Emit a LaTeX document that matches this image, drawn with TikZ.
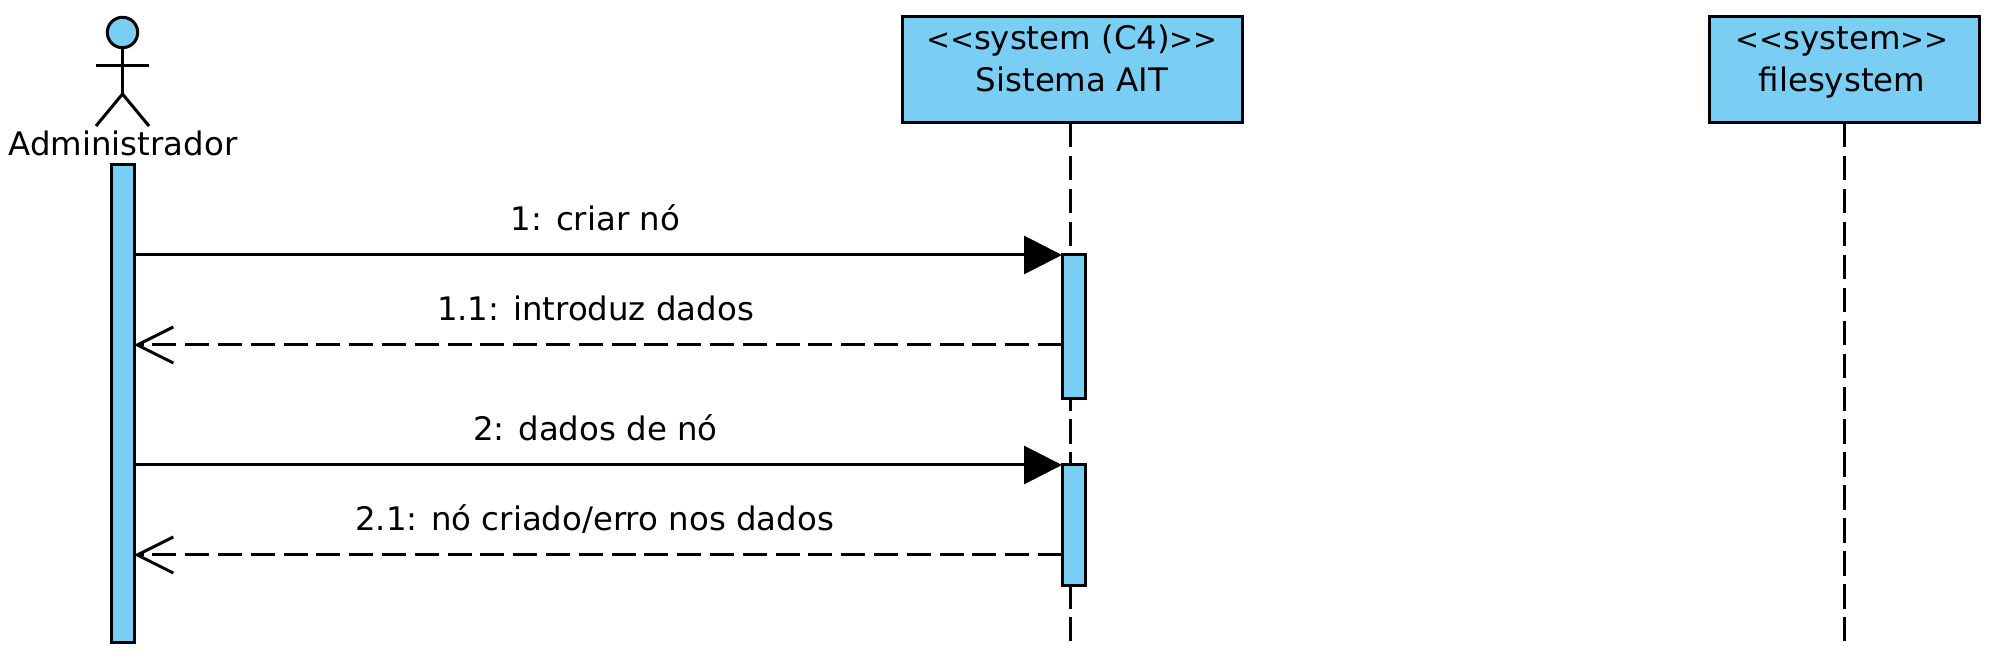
\documentclass[tikz,border=0pt]{standalone}
\usepackage{fontspec}
\setmainfont{DejaVu Sans}
\usetikzlibrary{arrows.meta}
\definecolor{umlblue}{HTML}{7ACEF4}
\newcommand{\gll}{{\fontsize{14.3}{21}\selectfont <{}<}}
\newcommand{\ggr}{{\fontsize{14.3}{21}\selectfont >{}>}}
\tikzset{
  px/.style={x=0.5pt,y=-0.5pt},
  ln/.style={line width=1.5pt,black},
  sysbox/.style={ln,draw,fill=umlblue,rectangle,inner sep=0pt,outer sep=0pt,minimum height=53pt,align=center,
     font=\fontsize{16.2}{21}\selectfont,text height=37.5pt,text depth=15.5pt},
  bar/.style={ln,draw,fill=umlblue,rectangle,inner sep=0pt,outer sep=0pt,minimum width=11.5pt},
  lifeline/.style={ln,dash pattern=on 12.2pt off 4.27pt},
  call/.style={ln,-{Triangle[length=19pt,width=19pt]}},
  reply/.style={ln,dash pattern=on 12pt off 4.4pt,-{Straight Barb[length=18pt,width=18pt]}},
  msg/.style={font=\fontsize{16.2}{18}\selectfont,anchor=base,inner sep=0pt},
}
\begin{document}
\begin{tikzpicture}[px]
\useasboundingbox (0,0) rectangle (1994,656);
% lifelines endpoints
\coordinate (endA) at (1070.5,642);
\coordinate (endB) at (1844,642);
% boxes
\node[sysbox,minimum width=170pt] (sysA) at (1072,70) {\gll system (C4)\ggr\\Sistema AIT};
\node[sysbox,minimum width=135pt] (sysB) at (1844,70) {\gll system\ggr\hspace*{2pt}\\filesystem\hspace*{2pt}};
\draw[lifeline] (sysA.south -| endA) -- (endA);
\draw[lifeline] (sysB.south) -- (endB);
% actor
\node[ln,draw,fill=umlblue,circle,inner sep=0pt,outer sep=0pt,minimum size=15.2pt] (head) at (122.5,32.5) {};
\coordinate (hip) at (122.5,94);
\coordinate (armL) at (96,65.5);
\coordinate (armR) at (149,65.5);
\coordinate (legL) at (96,126);
\coordinate (legR) at (149,126);
\draw[ln] (head.south) -- (hip);
\draw[ln] (armL) -- (armR);
\draw[ln] (legL) -- (hip) -- (legR);
\node[msg] (admin) at (123,156) {Administrador};
% activations
\node[bar,anchor=north,minimum height=239pt] (barU) at (122.5,165) {};
\node[bar,anchor=north,minimum height=72pt] (barA1) at (1073.5,255) {};
\node[bar,anchor=north,minimum height=60.5pt] (barA2) at (1073.5,465) {};
% messages
\coordinate (m1) at (0,255);
\coordinate (r1) at (0,345);
\coordinate (m2) at (0,465);
\coordinate (r2) at (0,555);
\draw[call] (barU.east |- m1) -- (barA1.north west);
\draw[reply] (barA1.west |- r1) -- (barU.east |- r1);
\draw[call] (barU.east |- m2) -- (barA2.north west);
\draw[reply] (barA2.west |- r2) -- (barU.east |- r2);
% labels
\node[msg] (l1) at (595.5,231) {1: criar nó};
\node[msg] (l2) at (595.5,321) {1.1: introduz dados};
\node[msg] (l3) at (595.5,441) {2: dados de nó};
\node[msg] (l4) at (594.5,531) {2.1: nó criado/erro nos dados};
\end{tikzpicture}
\end{document}
